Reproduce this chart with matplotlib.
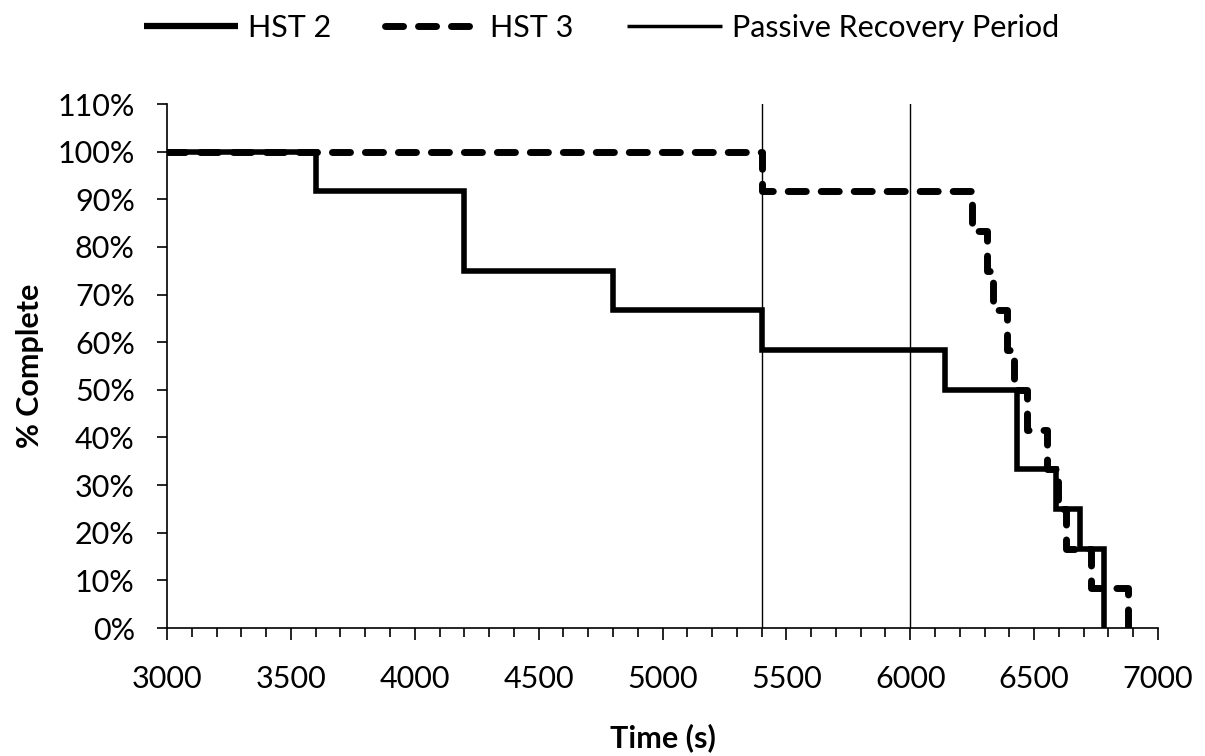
import matplotlib
matplotlib.use("Agg")
from matplotlib import pyplot as plt
from matplotlib.lines import Line2D
from matplotlib.ticker import MultipleLocator, FuncFormatter

# step change points (time in s) and % complete after each change
hst2_time = [3000, 3600, 4200, 4800, 5400, 6140, 6430, 6590, 6685, 6780]
hst2_pct = [100, 91.67, 75, 66.67, 58.33, 50, 33.33, 25, 16.67, 0]

hst3_time = [3000, 5400, 6250, 6310, 6335, 6390, 6420, 6470, 6550, 6595, 6630, 6730, 6880]
hst3_pct = [100, 91.67, 83.33, 75, 66.67, 58.33, 50, 41.67, 33.33, 25, 16.67, 8.33, 0]

# passive recovery period boundaries
recovery_time = [5400, 6000]

plt.rcParams['font.family'] = ['Lato', 'DejaVu Sans']

fig = plt.figure(figsize=(12.05, 7.56), dpi=100)
ax = fig.add_axes([0.1386, 0.1693, 0.8224, 0.6931])

dash = (0, (2.6, 2.15))
ax.plot(hst2_time, hst2_pct, drawstyle='steps-post', color='black', lw=4,
        solid_capstyle='butt', solid_joinstyle='miter')
ax.plot(hst3_time, hst3_pct, drawstyle='steps-post', color='black', lw=5,
        linestyle=dash, dash_capstyle='round')
for t in recovery_time:
    ax.axvline(t, color='black', lw=1)

ax.set_xlim(3000, 7000)
ax.set_ylim(0, 110)
ax.xaxis.set_major_locator(MultipleLocator(500))
ax.xaxis.set_minor_locator(MultipleLocator(100))
ax.yaxis.set_major_locator(MultipleLocator(10))
ax.yaxis.set_major_formatter(FuncFormatter(lambda v, p: f"{v:.0f}%"))

for s in ['top', 'right']:
    ax.spines[s].set_visible(False)
for s in ['left', 'bottom']:
    ax.spines[s].set_linewidth(1.2)

ax.tick_params(axis='x', which='major', length=8.6, width=1.2, labelsize=22, pad=18)
ax.tick_params(axis='x', which='minor', length=6.5, width=1.2)
ax.tick_params(axis='y', which='major', length=7.2, width=1.2, labelsize=22, pad=16)

ax.set_xlabel('Time (s)', fontsize=22, fontweight='bold', labelpad=22)
ax.set_ylabel('% Complete', fontsize=22, fontweight='bold', labelpad=10)

handles = [
    Line2D([], [], color='black', lw=4.5, solid_capstyle='butt'),
    Line2D([], [], color='black', lw=5, linestyle=dash, dash_capstyle='round'),
    Line2D([], [], color='black', lw=2.5, solid_capstyle='butt'),
]
labels = ['HST 2', 'HST 3', 'Passive Recovery Period']
fig.legend(handles, labels, loc='center', bbox_to_anchor=(0.499, 0.963), ncol=3,
           frameon=False, fontsize=22, handlelength=3.1, handletextpad=0.33,
           columnspacing=1.75, borderpad=0, borderaxespad=0)

plt.savefig('out.png', dpi=100)
